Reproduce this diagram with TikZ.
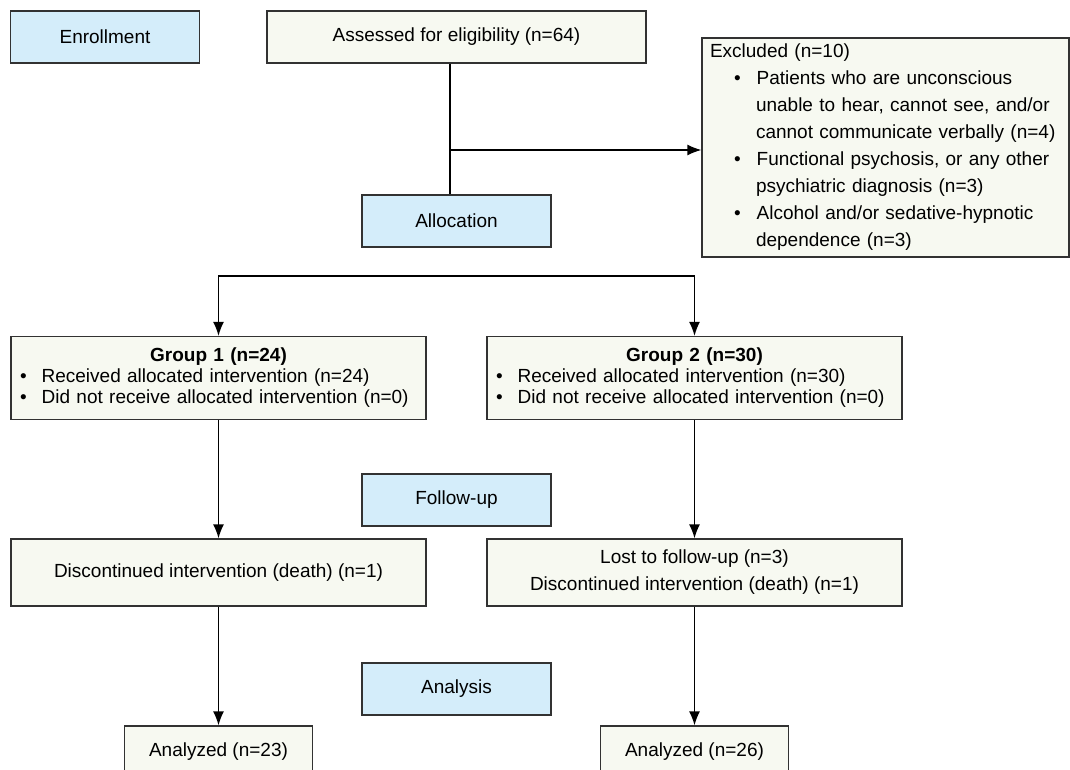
\documentclass[tikz,border=0pt]{standalone}
\usepackage{fontspec}
\setmainfont{Liberation Sans}
\usetikzlibrary{arrows.meta}

\definecolor{stagefill}{RGB}{212,237,250}
\definecolor{boxfill}{RGB}{247,249,241}
\definecolor{boxline}{RGB}{50,50,50}

\begin{document}
\begin{tikzpicture}[x=1pt, y=-1pt,
	font=\fontsize{19}{27}\selectfont,
	line width=1.3pt, draw=boxline,
	>={Latex[length=14pt, width=11pt]},
	stage/.style={draw=boxline, fill=stagefill, rectangle, inner sep=0pt,
		minimum width=189pt, minimum height=52pt},
	flow/.style={draw=boxline, fill=boxfill, rectangle, inner sep=0pt,
		minimum width=188pt, minimum height=52pt},
	grp/.style={flow, align=left, text width=397pt, inner xsep=9pt,
		minimum height=83pt, font=\fontsize{19}{21}\selectfont},
	excl/.style={flow, align=left, text width=351pt, inner xsep=8pt,
		minimum height=219pt}]
	\def \leftcol {218.5}
	\def \rightcol {694.5}
	\def \midcol {456.5}

	\clip (0,0) rectangle (1070,770);

	% stage labels
	\node[stage] (enrollment) at (105,37) {Enrollment};
	\node[stage] (allocation) at (\midcol,221) {Allocation};
	\node[stage] (followup)   at (\midcol,500) {Follow-up};
	\node[stage] (analysis)   at (\midcol,689) {Analysis};

	\node[flow, minimum width=379pt] (assessed) at (\midcol,37)
		{Assessed for eligibility (n=64)};
	\node[excl] (excluded) at (885.5,147.5)
		{Excluded (n=10)\\
		\hspace*{24pt}\textbullet\hspace{16pt}Patients who are unconscious\\
		\hspace*{46pt}unable to hear, cannot see, and/or\\
		\hspace*{46pt}cannot communicate verbally (n=4)\\
		\hspace*{24pt}\textbullet\hspace{16pt}Functional psychosis, or any other\\
		\hspace*{46pt}psychiatric diagnosis (n=3)\\
		\hspace*{24pt}\textbullet\hspace{16pt}Alcohol and/or sedative-hypnotic\\
		\hspace*{46pt}dependence (n=3)};

	\node[grp] (group1) at (\leftcol,378)
		{{\centering\bfseries Group 1 (n=24)\par}
		\textbullet\hspace{15pt}Received allocated intervention (n=24)\\
		\textbullet\hspace{15pt}Did not receive allocated intervention (n=0)};
	\node[grp] (group2) at (\rightcol,378)
		{{\centering\bfseries Group 2 (n=30)\par}
		\textbullet\hspace{15pt}Received allocated intervention (n=30)\\
		\textbullet\hspace{15pt}Did not receive allocated intervention (n=0)};

	\node[flow, minimum width=415pt, minimum height=67pt] (discont1) at (\leftcol,572.5)
		{Discontinued intervention (death) (n=1)};
	\node[flow, minimum width=415pt, minimum height=67pt, align=center] (discont2) at (\rightcol,572.5)
		{Lost to follow-up (n=3)\\Discontinued intervention (death) (n=1)};

	\node[flow] (analyzed1) at (\leftcol,752) {Analyzed (n=23)};
	\node[flow] (analyzed2) at (\rightcol,752) {Analyzed (n=26)};

	% connectors
	\coordinate (branch) at (450,150);
	\coordinate (split) at (\midcol,276);
	\draw[black] (assessed.south -| branch) -- (allocation.north -| branch);
	\draw[black, ->] (branch) -- (branch -| excluded.west);
	\draw[black, <->] (group1.north) |- (split) -| (group2.north);
	\draw[black, ->] (group1) -- (discont1);
	\draw[black, ->] (group2) -- (discont2);
	\draw[black, ->] (discont1) -- (analyzed1);
	\draw[black, ->] (discont2) -- (analyzed2);
\end{tikzpicture}
\end{document}
